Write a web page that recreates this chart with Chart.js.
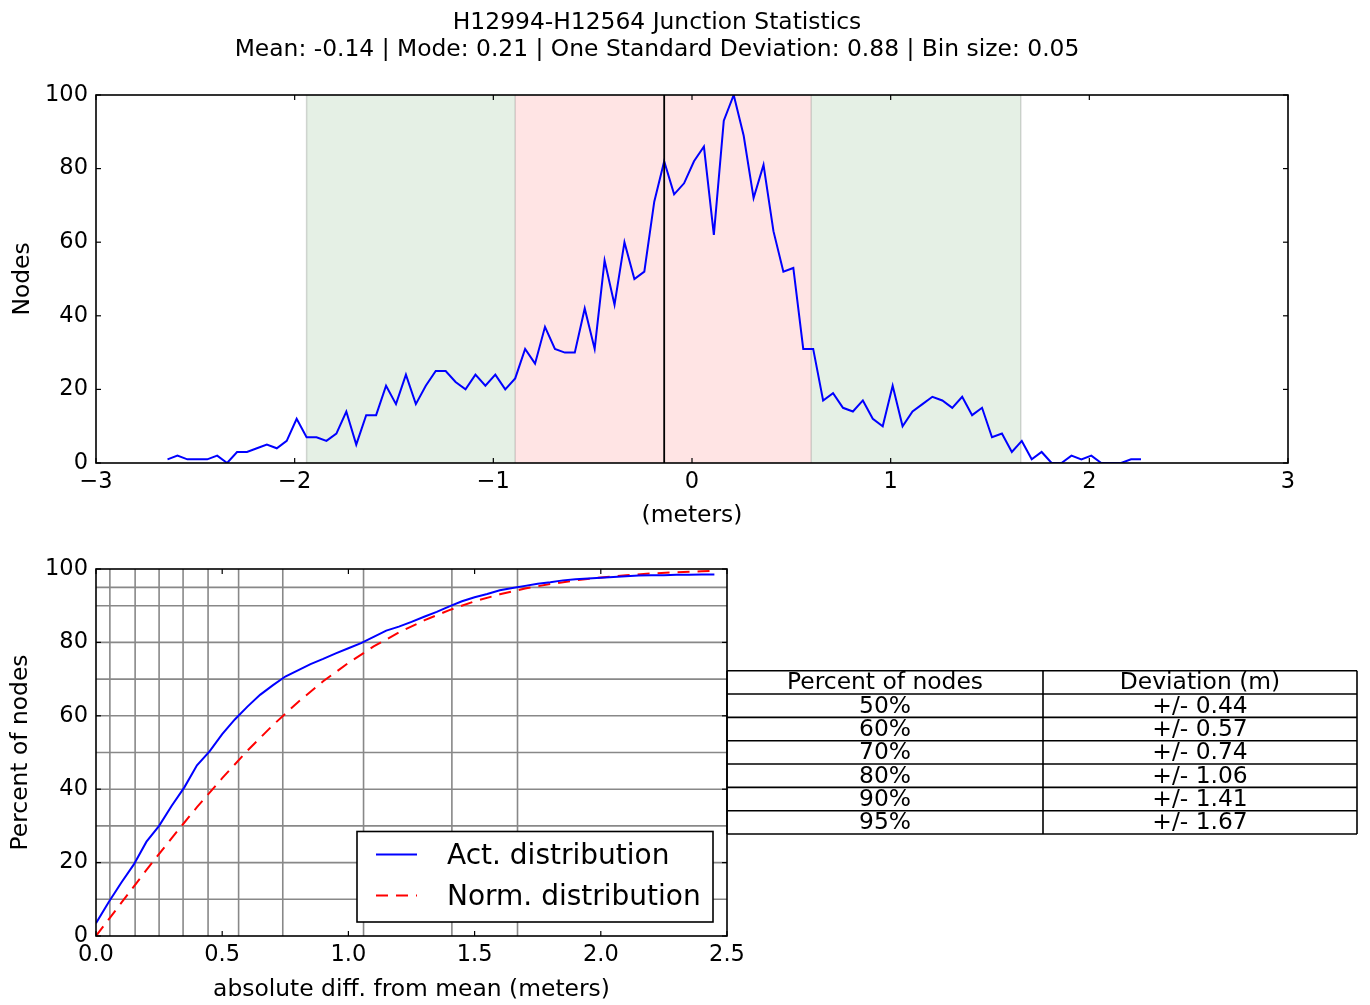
<!DOCTYPE html>
<html>
<head>
<meta charset="utf-8">
<script src="https://cdn.jsdelivr.net/npm/chart.js@4.4.0/dist/chart.umd.min.js"></script>
<style>
html,body{margin:0;padding:0;background:#fff;}
body{width:1370px;height:1005px;position:relative;overflow:hidden;}
#c1{position:absolute;left:0;top:0;}
#c2{position:absolute;left:0;top:540px;}
</style>
</head>
<body>
<canvas id="c1" width="1370" height="540"></canvas>
<canvas id="c2" width="1370" height="465"></canvas>
<script>
// ---------- DATA ----------
const titleLines = ['H12994-H12564 Junction Statistics',
  'Mean: -0.14 | Mode: 0.21 | One Standard Deviation: 0.88 | Bin size: 0.05'];

const binCenters = [-2.64,-2.59,-2.54,-2.49,-2.44,-2.39,-2.34,-2.29,-2.24,-2.19,
  -2.14,-2.09,-2.04,-1.99,-1.94,-1.89,-1.84,-1.79,-1.74,-1.69,
  -1.64,-1.59,-1.54,-1.49,-1.44,-1.39,-1.34,-1.29,-1.24,-1.19,
  -1.14,-1.09,-1.04,-0.99,-0.94,-0.89,-0.84,-0.79,-0.74,-0.69,
  -0.64,-0.59,-0.54,-0.49,-0.44,-0.39,-0.34,-0.29,-0.24,-0.19,
  -0.14,-0.09,-0.04,0.01,0.06,0.11,0.16,0.21,0.26,0.31,
  0.36,0.41,0.46,0.51,0.56,0.61,0.66,0.71,0.76,0.81,
  0.86,0.91,0.96,1.01,1.06,1.11,1.16,1.21,1.26,1.31,
  1.36,1.41,1.46,1.51,1.56,1.61,1.66,1.71,1.76,1.81,
  1.86,1.91,1.96,2.01,2.06,2.11,2.16,2.21,2.26];
const nodeCounts = [1,2,1,1,1,2,0,3,3,4,
  5,4,6,12,7,7,6,8,14,5,
  13,13,21,16,24,16,21,25,25,22,
  20,24,21,24,20,23,31,27,37,31,
  30,30,42,31,55,43,60,50,52,71,
  82,73,76,82,86,62,93,100,89,72,
  81,63,52,53,31,31,17,19,15,14,
  17,12,10,21,10,14,16,18,17,15,
  18,13,15,7,8,3,6,1,3,0,
  0,2,1,2,0,0,0,1,1];
const meanValue = -0.14;
const innerBand = [-0.89, 0.60];   // pink
const outerBand = [-1.94, 1.655];  // green

const cdfX = [0,0.05,0.1,0.15,0.2,0.25,0.3,0.35,0.4,0.45,
  0.5,0.55,0.6,0.65,0.7,0.75,0.8,0.85,0.9,0.95,
  1.0,1.05,1.1,1.15,1.2,1.25,1.3,1.35,1.4,1.45,
  1.5,1.55,1.6,1.65,1.7,1.75,1.8,1.85,1.9,1.95,
  2.0,2.05,2.1,2.15,2.2,2.25,2.3,2.35,2.4,2.45];
const cdfActual = [3.5,9.2,14.5,19.5,25.7,30.0,35.5,40.5,46.5,50.3,
  55.0,59.0,62.5,65.7,68.3,70.7,72.4,74.1,75.5,77.0,
  78.4,79.8,81.5,83.2,84.3,85.6,87.0,88.3,89.8,91.2,
  92.3,93.2,94.2,94.8,95.4,96.0,96.4,96.9,97.2,97.4,
  97.6,97.8,98.0,98.2,98.3,98.3,98.4,98.4,98.5,98.5];
const normX = [0,0.1,0.2,0.3,0.4,0.5,0.6,0.7,0.8,0.9,1.0,1.1,1.2,1.3,1.4,1.5,1.6,1.7,1.8,1.9,2.0,2.1,2.2,2.3,2.4,2.45];
const cdfNormal = [0,9.0,18.0,26.7,35.1,43.0,50.5,57.4,63.7,69.4,74.4,78.9,82.7,86.0,88.8,91.2,93.1,94.7,95.9,96.9,97.7,98.3,98.8,99.1,99.4,99.5];

const gridPercents = [10,20,30,40,50,60,70,80,90,95];
const gridDevs = [0.055,0.155,0.25,0.345,0.444,0.565,0.74,1.06,1.41,1.67];

const tableHeader = ['Percent of nodes','Deviation (m)'];
const tablePercents = ['50%','60%','70%','80%','90%','95%'];
const tableDevs = ['+/- 0.44','+/- 0.57','+/- 0.74','+/- 1.06','+/- 1.41','+/- 1.67'];

// ---------- STYLE ----------
const FONT = '"DejaVu Sans"';
Chart.defaults.font.family = FONT;
Chart.defaults.color = '#000';
Chart.defaults.animation = false;

function line(ctx,x1,y1,x2,y2){ctx.beginPath();ctx.moveTo(x1,y1);ctx.lineTo(x2,y2);ctx.stroke();}

const frameTicks = {
  id:'frameTicks',
  afterDatasetsDraw(chart){
    const {ctx, chartArea:{left,right,top,bottom}, scales:{x,y}} = chart;
    ctx.save();
    ctx.strokeStyle='#000'; ctx.lineWidth=1.2;
    const L=5;
    x.ticks.forEach(t=>{const p=x.getPixelForValue(t.value); line(ctx,p,top,p,top+L); line(ctx,p,bottom,p,bottom-L);});
    y.ticks.forEach(t=>{const p=y.getPixelForValue(t.value); line(ctx,left,p,left+L,p); line(ctx,right,p,right-L,p);});
    ctx.lineWidth=1.6;
    ctx.strokeRect(left,top,right-left,bottom-top);
    ctx.restore();
  }
};

const topDecor = {
  id:'topDecor',
  beforeDatasetsDraw(chart){
    const {ctx, chartArea:{top,bottom}, scales:{x}} = chart;
    ctx.save();
    const px = v=>x.getPixelForValue(v);
    ctx.fillStyle='#e5f0e5';
    ctx.fillRect(px(outerBand[0]),top,px(innerBand[0])-px(outerBand[0]),bottom-top);
    ctx.fillRect(px(innerBand[1]),top,px(outerBand[1])-px(innerBand[1]),bottom-top);
    ctx.fillStyle='#ffe4e4';
    ctx.fillRect(px(innerBand[0]),top,px(innerBand[1])-px(innerBand[0]),bottom-top);
    ctx.strokeStyle='rgba(0,0,0,0.15)'; ctx.lineWidth=1.5;
    [outerBand[0],innerBand[0],innerBand[1],outerBand[1]].forEach(v=>line(ctx,px(v),top,px(v),bottom));
    ctx.restore();
  },
  afterDatasetsDraw(chart){
    const {ctx, chartArea:{top,bottom}, scales:{x}} = chart;
    ctx.save(); ctx.strokeStyle='#000'; ctx.lineWidth=1.8;
    const p=x.getPixelForValue(meanValue); line(ctx,p,top,p,bottom);
    ctx.restore();
  },
  afterDraw(chart){
    const ctx=chart.ctx;
    ctx.save(); ctx.fillStyle='#000'; ctx.font='23.4px '+FONT; ctx.textAlign='center'; ctx.textBaseline='alphabetic';
    ctx.fillText(titleLines[0],657,28.5);
    ctx.fillText(titleLines[1],657,55.5);
    ctx.restore();
  }
};

const bottomDecor = {
  id:'bottomDecor',
  beforeDatasetsDraw(chart){
    const {ctx, chartArea:{left,right,top,bottom}, scales:{x,y}} = chart;
    ctx.save(); ctx.strokeStyle='#888'; ctx.lineWidth=1.6;
    gridDevs.forEach(v=>{const p=x.getPixelForValue(v); line(ctx,p,top,p,bottom);});
    gridPercents.forEach(v=>{const p=y.getPixelForValue(v); line(ctx,left,p,right,p);});
    ctx.restore();
  },
  afterDraw(chart){
    const ctx=chart.ctx;
    const ds=chart.data.datasets;
    // legend
    ctx.save();
    const bx=357, by=291.5, bw=356, bh=90.5;
    ctx.fillStyle='#fff'; ctx.fillRect(bx,by,bw,bh);
    ctx.strokeStyle='#000'; ctx.lineWidth=1.6; ctx.strokeRect(bx,by,bw,bh);
    ctx.font='28px '+FONT; ctx.textBaseline='middle'; ctx.textAlign='left'; ctx.fillStyle='#000';
    [314.5,355.5].forEach((yy,i)=>{
      ctx.strokeStyle=ds[i].borderColor; ctx.lineWidth=2; ctx.setLineDash(ds[i].borderDash||[]);
      line(ctx,376,yy,417,yy); ctx.setLineDash([]);
      ctx.fillText(ds[i].label,447,yy+2);
    });
    ctx.restore();
    // table
    ctx.save();
    const tl=727, tm=1043, tr=1357, tt=130.7, rh=23.33;
    const nRows=tablePercents.length+1;
    ctx.strokeStyle='#000'; ctx.lineWidth=1.6;
    for(let i=0;i<=nRows;i++){ line(ctx,tl,tt+i*rh,tr,tt+i*rh); }
    [tl,tm,tr].forEach(xx=>line(ctx,xx,tt,xx,tt+nRows*rh));
    ctx.font='23.4px '+FONT; ctx.fillStyle='#000'; ctx.textAlign='center'; ctx.textBaseline='middle';
    const rows=[tableHeader].concat(tablePercents.map((p,i)=>[p,tableDevs[i]]));
    rows.forEach((r,i)=>{
      const cy=tt+i*rh+rh/2+1;
      ctx.fillText(r[0],(tl+tm)/2,cy);
      ctx.fillText(r[1],(tm+tr)/2,cy);
    });
    ctx.restore();
  }
};

const minus = v => (v<0 ? '\u2212'+Math.abs(v) : String(v));

// ---------- TOP CHART ----------
new Chart(document.getElementById('c1'), {
  type:'line',
  data:{datasets:[{
    label:'Nodes',
    data:binCenters.map((x,i)=>({x:x,y:nodeCounts[i]})),
    borderColor:'#0000ff', borderWidth:2, pointRadius:0, tension:0, fill:false
  }]},
  options:{
    responsive:false, devicePixelRatio:1, animation:false,
    layout:{padding:{left:0,top:95,right:82,bottom:0}},
    plugins:{legend:{display:false}, tooltip:{enabled:false}, title:{display:false}},
    scales:{
      x:{type:'linear',min:-3,max:3,
        ticks:{stepSize:1,font:{size:22.5},padding:6,maxRotation:0,callback:minus},
        grid:{display:false,drawTicks:false}, border:{display:false},
        title:{display:true,text:'(meters)',font:{size:23.4},padding:{top:0,bottom:10}},
        afterFit(s){s.height=77;}
      },
      y:{type:'linear',min:0,max:100,
        ticks:{stepSize:20,font:{size:22.5},padding:8},
        grid:{display:false,drawTicks:false}, border:{display:false},
        title:{display:true,text:'Nodes',font:{size:23.4},padding:{top:9,bottom:0}},
        afterFit(s){s.width=96;}
      }
    }
  },
  plugins:[topDecor, frameTicks]
});

// ---------- BOTTOM CHART ----------
new Chart(document.getElementById('c2'), {
  type:'line',
  data:{datasets:[
    {label:'Act. distribution', data:cdfX.map((x,i)=>({x:x,y:cdfActual[i]})),
     borderColor:'#0000ff', borderWidth:2, pointRadius:0, tension:0, fill:false},
    {label:'Norm. distribution', data:normX.map((x,i)=>({x:x,y:cdfNormal[i]})),
     borderColor:'#ff0000', borderWidth:2, borderDash:[12,8], pointRadius:0, tension:0, fill:false}
  ]},
  options:{
    responsive:false, devicePixelRatio:1, animation:false,
    layout:{padding:{left:0,top:29,right:643,bottom:0}},
    plugins:{legend:{display:false}, tooltip:{enabled:false}, title:{display:false}},
    scales:{
      x:{type:'linear',min:0,max:2.5,
        ticks:{stepSize:0.5,font:{size:22.5},padding:6,maxRotation:0,callback:v=>Number(v).toFixed(1)},
        grid:{display:false,drawTicks:false}, border:{display:false},
        title:{display:true,text:'absolute diff. from mean (meters)',font:{size:23.4},padding:{top:0,bottom:1}},
        afterFit(s){s.height=69;}
      },
      y:{type:'linear',min:0,max:100,
        ticks:{stepSize:20,font:{size:22.5},padding:8},
        grid:{display:false,drawTicks:false}, border:{display:false},
        title:{display:true,text:'Percent of nodes',font:{size:23.4},padding:{top:7,bottom:0}},
        afterFit(s){s.width=96;}
      }
    }
  },
  plugins:[bottomDecor, frameTicks]
});
</script>
</body>
</html>
